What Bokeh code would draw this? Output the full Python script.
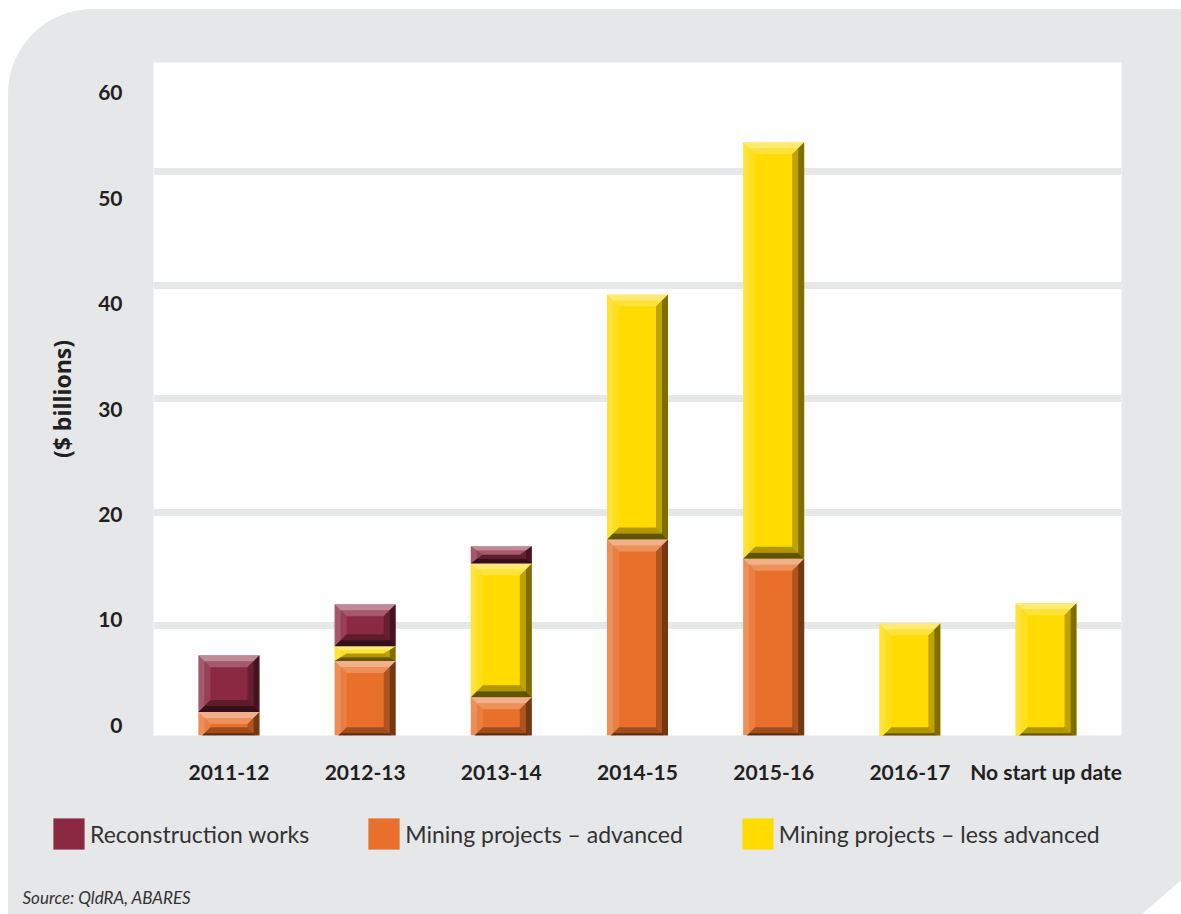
from bokeh.plotting import figure
from bokeh.layouts import column
from bokeh.models import (Range1d, LinearAxis, FixedTicker, Grid, Legend, LegendItem,
                          Label, ColumnDataSource)
from bokeh.embed import file_html
from bokeh.resources import INLINE

# ---------------- data ----------------
categories = ["2011-12", "2012-13", "2013-14", "2014-15", "2015-16", "2016-17", "No start up date"]
reconstruction = [5.0, 3.7, 1.5, 0.0, 0.0, 0.0, 0.0]
mining_advanced = [2.4, 6.9, 3.7, 17.6, 15.9, 0.0, 0.0]
mining_less_advanced = [0.0, 1.3, 11.8, 21.6, 36.7, 10.2, 12.0]
series_names = ["Reconstruction works", "Mining projects – advanced", "Mining projects – less advanced"]
y_ticks = [0, 10, 20, 30, 40, 50, 60]
y_title = "($ billions)"
source_note = "Source: QldRA, ABARES"

# ---------------- styles ----------------
GREY = "#e6e7e8"
MAROON = "#8b2942"
ORANGE = "#e8702a"
YELLOW = "#ffdb00"
TEXT = "#231f20"
FONT = "Lato"
BAR_W = 0.448

xs = list(range(len(categories)))

p = figure(width=1173, height=791, output_backend="svg", toolbar_location=None,
           x_range=Range1d(-0.554, len(categories) - 1 + 0.554),
           y_range=Range1d(0.335, 59.63),
           x_axis_location=None, y_axis_location=None,
           min_border_left=145, min_border_right=60, min_border_top=53, min_border_bottom=65)
p.border_fill_color = GREY
p.background_fill_color = "white"
p.outline_line_color = None
p.xgrid.visible = False
p.ygrid.visible = False
p.frame_align = False

# grid bands
grid = Grid(dimension=1, ticker=FixedTicker(ticks=y_ticks),
            grid_line_color=GREY, grid_line_width=7)
p.add_layout(grid)

# x axis
xaxis = LinearAxis(ticker=FixedTicker(ticks=xs),
                   major_label_overrides={i: c for i, c in enumerate(categories)})
xaxis.axis_line_color = None
xaxis.major_tick_line_color = None
xaxis.minor_tick_line_color = None
xaxis.major_label_standoff = 17
xaxis.major_label_text_font = FONT
xaxis.major_label_text_font_style = "bold"
xaxis.major_label_text_font_size = "21px"
xaxis.major_label_text_color = TEXT
p.add_layout(xaxis, "below")

# y axis (labels positioned as in the original)
p.extra_y_ranges = {"labels": Range1d(-0.948, 62.844)}
yaxis = LinearAxis(y_range_name="labels", ticker=FixedTicker(ticks=y_ticks), axis_label=y_title)
yaxis.axis_line_color = None
yaxis.major_tick_line_color = None
yaxis.minor_tick_line_color = None
yaxis.major_label_standoff = 25
yaxis.major_label_text_font = FONT
yaxis.major_label_text_font_style = "bold"
yaxis.major_label_text_font_size = "21px"
yaxis.major_label_text_color = TEXT
yaxis.axis_label_text_font = "Open Sans"
yaxis.axis_label_text_font_style = "bold"
yaxis.axis_label_text_font_size = "23px"
yaxis.axis_label_text_color = TEXT
yaxis.axis_label_standoff = 17
p.add_layout(yaxis, "left")

# stacked bars (bottom -> top: advanced, less advanced, reconstruction)
src = ColumnDataSource(dict(x=xs, adv=mining_advanced, less=mining_less_advanced, rec=reconstruction))
rs = p.vbar_stack(["adv", "less", "rec"], x="x", width=BAR_W, source=src,
                  fill_color=[ORANGE, YELLOW, MAROON], line_color=None)

# bevel shading derived from the stacked values
BX = 0.088
BY = 1.06
pxs, pys, pcol, palpha = [], [], [], []
stacks = [mining_advanced, mining_less_advanced, reconstruction]
for i, x in enumerate(xs):
    bottom = 0.0
    for s in stacks:
        h = s[i]
        if h <= 0:
            continue
        b, t = bottom, bottom + h
        bottom = t
        x0, x1 = x - BAR_W / 2, x + BAR_W / 2
        by = min(BY, h / 2)
        for f0, f1, k in [(0.0, 0.5, 1.0), (0.5, 1.0, 0.5)]:
            ax0, ax1 = BX * f0, BX * f1
            ay0, ay1 = by * f0, by * f1
            shapes = [
                ([x0 + ax0, x1 - ax0, x1 - ax1, x0 + ax1], [t - ay0, t - ay0, t - ay1, t - ay1], "white", 0.45 * k),
                ([x0 + ax0, x0 + ax0, x0 + ax1, x0 + ax1], [b + ay0, t - ay0, t - ay1, b + ay1], "white", 0.22 * k),
                ([x1 - ax0, x1 - ax0, x1 - ax1, x1 - ax1], [b + ay0, t - ay0, t - ay1, b + ay1], "black", 0.5 * k),
                ([x0 + ax0, x1 - ax0, x1 - ax1, x0 + ax1], [b + ay0, b + ay0, b + ay1, b + ay1], "black", 0.62 * k),
            ]
            for sx, sy, c, a in shapes:
                pxs.append(sx); pys.append(sy); pcol.append(c); palpha.append(a)

bev = ColumnDataSource(dict(xs=pxs, ys=pys, c=pcol, a=palpha))
p.patches("xs", "ys", source=bev, fill_color="c", fill_alpha="a", line_color=None)

# ---------------- legend + source panel ----------------
pl = figure(width=1173, height=114, output_backend="svg", toolbar_location=None,
            x_range=Range1d(0, 1), y_range=Range1d(0, 1),
            x_axis_location=None, y_axis_location=None,
            min_border=0, min_border_left=0, min_border_right=0, min_border_top=0, min_border_bottom=0)
pl.border_fill_color = GREY
pl.background_fill_color = GREY
pl.outline_line_color = None
pl.xgrid.visible = False
pl.ygrid.visible = False
pl.frame_align = False

# hidden swatch renderers (zero-height bars outside the visible range)
swatch_src = ColumnDataSource(dict(x=[-1.0], top=[0.0]))
leg_colors = [MAROON, ORANGE, YELLOW]
leg_items = []
for name, col in zip(series_names, leg_colors):
    r = pl.vbar(x="x", top="top", width=0.1, source=swatch_src, fill_color=col, line_color=None)
    leg_items.append(LegendItem(label=name, renderers=[r]))

legend = Legend(items=leg_items, orientation="horizontal", location=(41, 61),
                glyph_width=39, glyph_height=39, label_standoff=2, spacing=55,
                padding=0, margin=0, background_fill_alpha=0, border_line_color=None,
                label_text_font=FONT, label_text_font_size="23px", label_text_color="#333333")
pl.add_layout(legend)

pl.add_layout(Label(x=14, y=17, x_units="screen", y_units="screen", text=source_note,
                    text_font=FONT, text_font_style="italic", text_font_size="17px",
                    text_color="#333333", text_baseline="alphabetic"))

layout = column(p, pl, spacing=0)
layout.styles = {
    "position": "absolute", "left": "8px", "top": "9px",
    "background-color": GREY,
    "border-top-left-radius": "85px", "overflow": "hidden",
    "clip-path": "polygon(0 0, 100% 0, 100% calc(100% - 34px), calc(100% - 39px) 100%, 0 100%)",
}

open("out.html", "w").write(file_html(layout, INLINE))
